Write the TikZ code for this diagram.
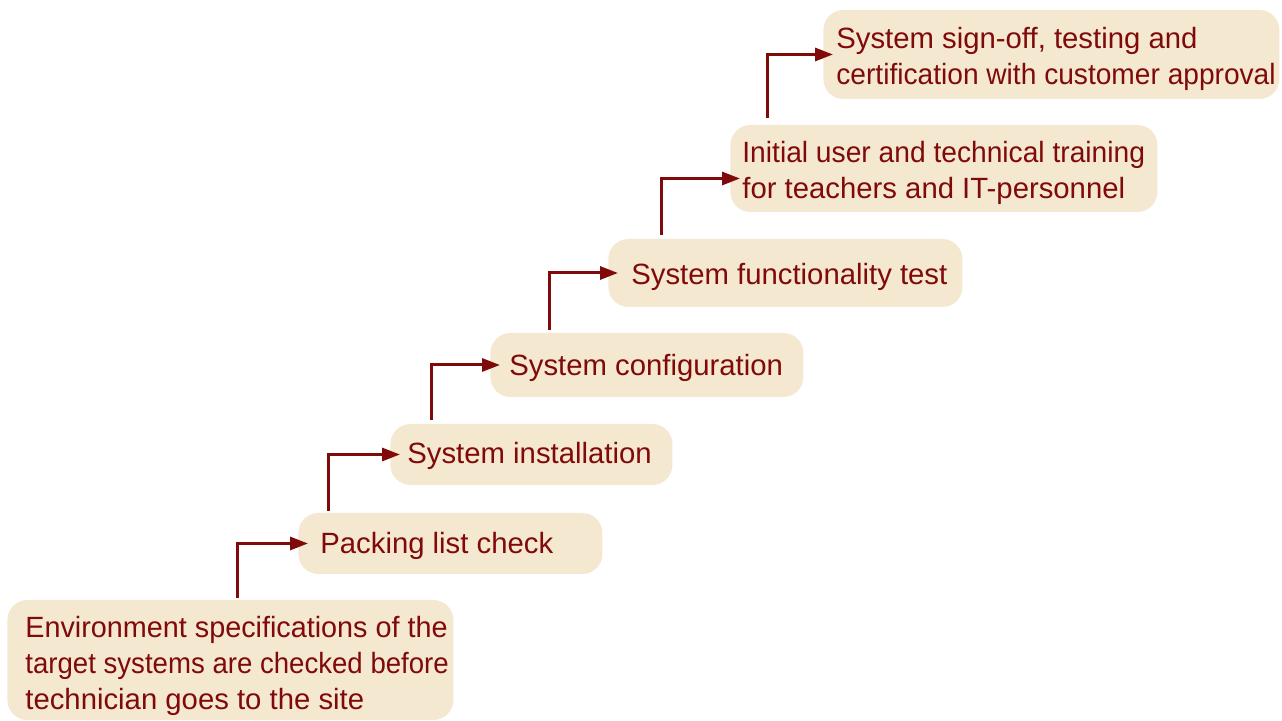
\documentclass[tikz,border=0pt]{standalone}
\usepackage{fontspec}
\usepackage{graphicx}
\setmainfont{Liberation Sans}
\usetikzlibrary{arrows.meta}

\definecolor{stagefill}{RGB}{244,232,208}
\definecolor{stagered}{RGB}{128,10,10}

\tikzset{
    stage/.style={rectangle, rounded corners=10pt, fill=stagefill, anchor=west, inner sep=0pt},
    stagetext/.style={anchor=west, align=left, inner sep=0pt, text=stagered,
        font=\fontsize{14.65pt}{18pt}\selectfont},
    flow/.style={stagered, line width=1.5pt, -{Triangle[length=9pt,width=6.5pt]}}
}

\begin{document}
\begin{tikzpicture}[x=0.5pt, y=-0.5pt]
    \useasboundingbox (0,0) rectangle (1282,721);

    % Stage boxes (bottom to top)
    \node[stage, minimum width=223pt, minimum height=60pt] (env) at (7,660) {};
    \node[stage, minimum width=152pt, minimum height=30.5pt] (pack) at (298,543.5) {};
    \node[stage, minimum width=141pt, minimum height=30.5pt] (inst) at (390,454.5) {};
    \node[stage, minimum width=156.5pt, minimum height=32pt] (conf) at (490,365) {};
    \node[stage, minimum width=177pt, minimum height=34pt] (func) at (608,273) {};
    \node[stage, minimum width=213.5pt, minimum height=43.5pt] (train) at (730,168.5) {};
    \node[stage, minimum width=228pt, minimum height=44.5pt] (sign) at (823,54.5) {};

    % Stage texts (the longest lines are squeezed a little, as in the slide)
    \node[stagetext] (envtext) at ([xshift=9pt, yshift=-3pt]env.west)
        {\scalebox{0.982}[1]{Environment specifications of the}\\\scalebox{0.942}[1]{target systems are checked before}\\technician goes to the site};
    \node[stagetext] (packtext) at ([xshift=11pt, yshift=-1pt]pack.west) {Packing list check};
    \node[stagetext] (insttext) at ([xshift=8.5pt, yshift=-0.5pt]inst.west) {System installation};
    \node[stagetext] (conftext) at ([xshift=9.5pt, yshift=-1.5pt]conf.west) {System configuration};
    \node[stagetext] (functext) at ([xshift=11.5pt, yshift=-2pt]func.west) {System functionality test};
    \node[stagetext] (traintext) at ([xshift=6pt, yshift=-2pt]train.west)
        {\scalebox{0.962}[1]{Initial user and technical training}\\for teachers and IT-personnel};
    \node[stagetext] (signtext) at ([xshift=6.5pt, yshift=-2pt]sign.west)
        {System sign-off, testing and\\\scalebox{0.96}[1]{certification with customer approval}};

    % Step arrows
    \draw[flow] ([xshift=115pt, yshift=1pt]env.north west) |- ([xshift=5pt]pack.west);
    \draw[flow] ([xshift=15pt, yshift=1pt]pack.north west) |- ([xshift=5pt]inst.west);
    \draw[flow] ([xshift=20.5pt, yshift=2pt]inst.north west) |- ([xshift=5pt]conf.west);
    \draw[flow] ([xshift=29.5pt, yshift=1.5pt]conf.north west) |- ([xshift=5pt]func.west);
    \draw[flow] ([xshift=26.5pt, yshift=2pt]func.north west) |- ([xshift=5pt, yshift=-5pt]train.west);
    \draw[flow] ([xshift=18.5pt, yshift=3.5pt]train.north west) |- ([xshift=5pt]sign.west);
\end{tikzpicture}
\end{document}
